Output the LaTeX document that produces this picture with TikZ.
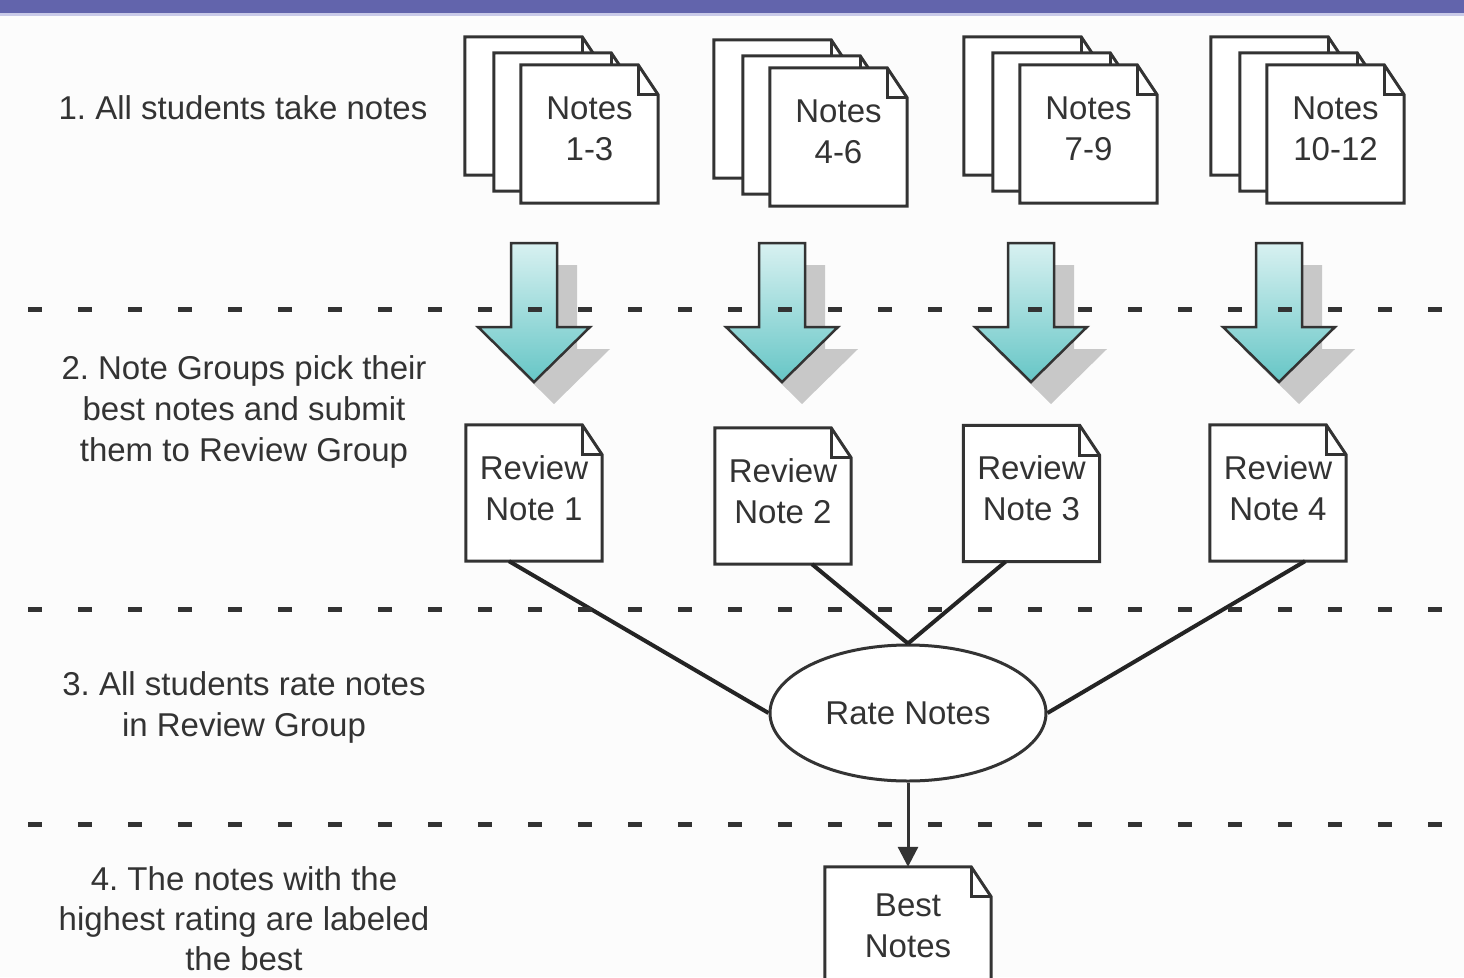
\documentclass[tikz,border=0pt]{standalone}
\usepackage{fontspec}
\setmainfont{Liberation Sans}
\usetikzlibrary{arrows.meta,shapes.geometric}
\definecolor{ink}{HTML}{333333}
\definecolor{barblue}{HTML}{6264AC}
\definecolor{barline}{HTML}{C9CAE8}
\definecolor{tealtop}{HTML}{D8F1F1}
\definecolor{tealbot}{HTML}{66C6C6}
\definecolor{shadowgray}{HTML}{C8C8C8}
\newcommand\dogsheet[1]{%
  \draw[sheetline,fill=white] (#1.north west) -- ([xshift=-20pt]#1.north east) -- ([yshift=-30pt]#1.north east) -- (#1.south east) -- (#1.south west) -- cycle;
  \draw[sheetline] ([xshift=-20pt]#1.north east) |- ([yshift=-30pt]#1.north east);}
\tikzset{
  sheetline/.style={draw=ink,line width=3pt,line join=miter},
  sheetbox/.style={rectangle,minimum width=137pt,minimum height=138pt,inner sep=0pt,draw=none},
  txt/.style={text=ink,align=center,inner sep=0pt,font=\fontsize{33pt}{41pt}\selectfont},
  conn/.style={draw=ink!70!black,line width=4pt},
  dashline/.style={draw=ink,line width=5pt,dash pattern=on 14pt off 36pt},
}
\frenchspacing
\begin{document}
\begin{tikzpicture}[x=1pt,y=-1pt]
\useasboundingbox (0,0) rectangle (1464,977);
\fill[white!98!gray] (0,0) rectangle (1464,977);
% top bar
\fill[barblue] (0,0) rectangle (1464,13);
\fill[barline] (0,13) rectangle (1464,16);

% note stacks
\foreach \n/\cx/\cy/\t in {1/589.5/134/{1-3},2/838.5/137/{4-6},3/1088.5/134/{7-9},4/1335.5/134/{10-12}}{
  \node[sheetbox] (back\n) at ({\cx-56},{\cy-28}) {};
  \dogsheet{back\n}
  \node[sheetbox] (mid\n) at ({\cx-27},{\cy-12}) {};
  \dogsheet{mid\n}
  \node[sheetbox] (front\n) at (\cx,\cy) {};
  \dogsheet{front\n}
  \node[txt] (ftext\n) at (\cx,{\cy-5}) {Notes\\\t};
}

% big arrows with shadows
\foreach \c in {534,782,1031,1279}{
  \fill[shadowgray] ({\c-3},265) -- ({\c+43},265) -- ({\c+43},349) -- ({\c+76},349) -- ({\c+20},404) -- ({\c-36},349) -- ({\c-3},349) -- cycle;
  \draw[ink,line width=2.5pt,top color=tealtop,bottom color=tealbot,line join=miter]
    ({\c-23},243) -- ({\c+23},243) -- ({\c+23},327) -- ({\c+56},327) -- (\c,382) -- ({\c-56},327) -- ({\c-23},327) -- cycle;
}

% review notes
\foreach \n/\cx/\cy in {1/534/493,2/783/496,3/1031.5/493.5,4/1278/493}{
  \node[sheetbox,minimum width=136pt,minimum height=136pt] (rev\n) at (\cx,\cy) {};
  \dogsheet{rev\n}
  \node[txt] (rtext\n) at (\cx,{\cy-5}) {Review\\Note \n};
}

% rate notes ellipse
\node[draw=ink,line width=3pt,ellipse,minimum width=276pt,minimum height=136pt,inner sep=0pt,fill=white,text=ink,font=\fontsize{33pt}{41pt}\selectfont] (rate) at (908,713) {Rate Notes};

% connectors
\draw[conn] ([xshift=-25pt]rev1.south) -- (rate.west);
\draw[conn] ([xshift=29pt]rev2.south) -- (rate.north);
\draw[conn] ([xshift=-26pt]rev3.south) -- (rate.north);
\draw[conn] ([xshift=27pt]rev4.south) -- (rate.east);

% best notes
\node[sheetbox,minimum width=166pt,minimum height=137pt] (best) at (908,935.5) {};
\dogsheet{best}
\node[txt] (btext) at (908,926) {Best\\Notes};
\draw[draw=ink,line width=3pt,-{Triangle[length=20pt,width=20pt]}] (rate.south) -- (best.north);

% dashed separators
\foreach \y in {309,609,824}{
  \draw[dashline] (28,\y) -- (1450,\y);
}

% left labels
\node[txt] (l1) at (243,108) {1. All students take notes};
\node[txt] (l2) at (244,412) {2. Note Groups pick their\\best notes and submit\\them to Review Group};
\node[txt] (l3) at (244,707) {3. All students rate notes\\in Review Group};
\node[txt,font=\fontsize{33pt}{40pt}\selectfont] (l4) at (244,919) {4. The notes with the\\highest rating are labeled\\the best};
\end{tikzpicture}
\end{document}
